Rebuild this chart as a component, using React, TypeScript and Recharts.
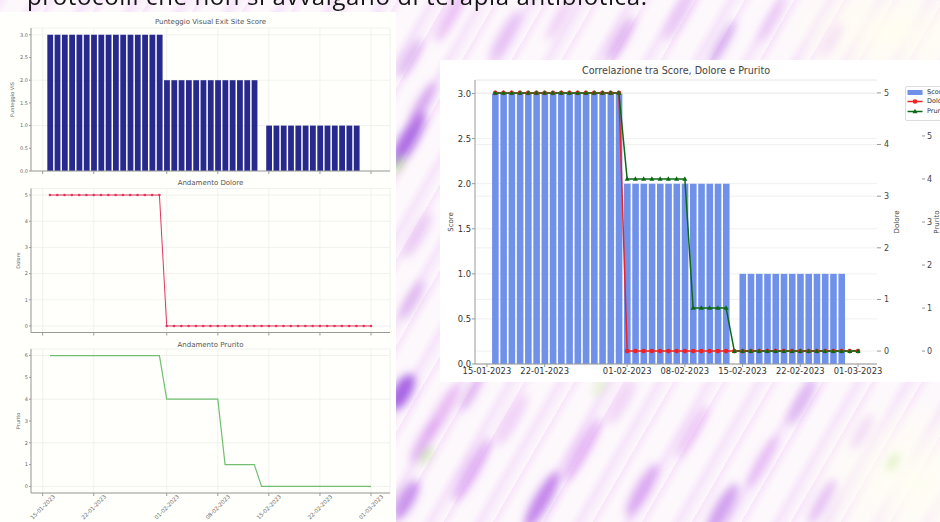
import { ComposedChart, Bar, Line, XAxis, YAxis, CartesianGrid } from "recharts";

// day axis counts days from 15-01-2023
const START = Date.UTC(2023, 0, 15);
const DAY_MS = 86400000;

// one reading a day, 16-01-2023 .. 01-03-2023
const dayOffsets = Array.from({ length: 45 }, (_, i) => i + 1);

const scoreVIS = [
  3, 3, 3, 3, 3, 3, 3, 3, 3, 3, 3, 3, 3, 3, 3, 3,
  2, 2, 2, 2, 2, 2, 2, 2, 2, 2, 2, 2, 2,
  null,
  1, 1, 1, 1, 1, 1, 1, 1, 1, 1, 1, 1, 1,
  null, null,
];
const dolore = [
  5, 5, 5, 5, 5, 5, 5, 5, 5, 5, 5, 5, 5, 5, 5, 5,
  0, 0, 0, 0, 0, 0, 0, 0, 0, 0, 0, 0, 0, 0, 0, 0, 0, 0, 0, 0, 0, 0, 0, 0, 0, 0, 0, 0, 0,
];
const prurito = [
  6, 6, 6, 6, 6, 6, 6, 6, 6, 6, 6, 6, 6, 6, 6, 6,
  4, 4, 4, 4, 4, 4, 4, 4,
  1, 1, 1, 1, 1,
  0, 0, 0, 0, 0, 0, 0, 0, 0, 0, 0, 0, 0, 0, 0, 0,
];

const tickLabels = ["15-01-2023", "22-01-2023", "01-02-2023", "08-02-2023", "15-02-2023", "22-02-2023", "01-03-2023"];
const scoreTicks = [0, 0.5, 1, 1.5, 2, 2.5, 3];
const doloreTicks = [0, 1, 2, 3, 4, 5];
const pruritoTicks = [0, 1, 2, 3, 4, 5, 6];

function dayOf(label: string) {
  const [d, m, y] = label.split("-").map(Number);
  return Math.round((Date.UTC(y, m - 1, d) - START) / DAY_MS);
}
const tickDays = tickLabels.map(dayOf);
const labelOfDay = (v: number) => tickLabels[tickDays.indexOf(v)] ?? "";

const rows = dayOffsets.map((day, i) => ({
  day,
  score: scoreVIS[i],
  dolore: dolore[i],
  prurito: prurito[i],
}));

const FONT = '"DejaVu Sans", sans-serif';
const leftDomain = [-1.6, 47.6];
const rightDomain = [-1.45, 47.3];

// watercolour streaks of the slide background: [cx, cy, rx, ry, colour, opacity]
const blots: [number, number, number, number, string, number][] = [
  [408, 140, 32, 8, "#a155e0", 0.85],
  [422, 105, 26, 6, "#c27ee8", 0.6],
  [410, 58, 22, 6, "#c98be8", 0.55],
  [418, 235, 26, 6, "#d9a0ee", 0.5],
  [412, 300, 22, 6, "#c68ae8", 0.5],
  [402, 392, 20, 9, "#9a50e0", 0.85],
  [424, 440, 26, 6, "#d38ff0", 0.6],
  [406, 500, 22, 8, "#b46ce6", 0.7],
  [452, 14, 32, 6, "#dd9af0", 0.6],
  [505, 36, 30, 6, "#cf8aee", 0.5],
  [560, 18, 26, 5, "#e2a5f0", 0.5],
  [620, 40, 26, 6, "#c67ee8", 0.55],
  [680, 14, 30, 6, "#d89cf0", 0.5],
  [722, 44, 26, 5, "#b877e6", 0.55],
  [772, 20, 26, 5, "#dba2ef", 0.45],
  [832, 40, 20, 5, "#e4b0f2", 0.35],
  [442, 412, 32, 7, "#e0a0f0", 0.6],
  [472, 470, 36, 7, "#cf86ee", 0.6],
  [512, 420, 30, 6, "#e4a8f2", 0.5],
  [542, 500, 32, 8, "#b060e6", 0.7],
  [582, 450, 36, 7, "#d690f0", 0.6],
  [622, 402, 26, 6, "#e6b0f2", 0.5],
  [642, 490, 30, 7, "#c478ea", 0.6],
  [692, 432, 30, 6, "#dd9cf0", 0.5],
  [722, 510, 30, 8, "#b468e6", 0.6],
  [762, 462, 30, 6, "#d895f0", 0.5],
  [802, 402, 26, 6, "#c585ea", 0.55],
  [822, 502, 26, 6, "#cf8cee", 0.5],
  [862, 432, 20, 6, "#e0a6f0", 0.35],
  [472, 392, 22, 5, "#c77fe8", 0.5],
  [398, 165, 10, 4, "#a8e070", 0.6],
  [426, 455, 10, 4, "#b0e078", 0.6],
  [893, 462, 10, 4, "#c0e890", 0.5],
  [600, 386, 12, 4, "#b9e58a", 0.4],
];

const SlantTick = ({ x, y, payload }: any) => (
  <text
    x={x}
    y={y + 9}
    textAnchor="middle"
    dominantBaseline="central"
    transform={`rotate(-45, ${x}, ${y + 9})`}
    fontSize={5.5}
    fill="#666"
    fontFamily={FONT}
  >
    {labelOfDay(payload.value)}
  </text>
);

const TriangleDot = (props: any) => {
  const { cx, cy, key } = props;
  if (cx == null || cy == null) return <g key={key} />;
  return (
    <path
      key={key}
      d={`M${cx},${cy - 2.7}L${cx + 2.5},${cy + 1.8}L${cx - 2.5},${cy + 1.8}Z`}
      fill="#0c6a14"
    />
  );
};

const smallTick = { fontSize: 5, fill: "#666", fontFamily: FONT };
const smallLabel = (value: string, dx: number) => ({
  value,
  angle: -90,
  position: "center" as const,
  dx,
  style: { fontSize: 5, fill: "#666", fontFamily: FONT },
});

function SmallTitle({ text, y }: { text: string; y: number }) {
  return (
    <div
      style={{
        position: "absolute",
        left: 31,
        width: 359,
        top: y - 4,
        textAlign: "center",
        fontSize: 7,
        lineHeight: "8px",
        color: "#555",
        fontFamily: FONT,
      }}
    >
      {text}
    </div>
  );
}

const bg = [
  "radial-gradient(ellipse 120px 60px at 95% 6%, rgba(255,254,240,1) 0%, rgba(255,254,240,0) 100%)",
  "radial-gradient(ellipse 110px 90px at 97% 92%, rgba(255,254,242,1) 0%, rgba(255,254,242,0) 100%)",
  "repeating-linear-gradient(120deg, rgba(230,165,242,0.22) 0px, rgba(230,165,242,0) 9px, rgba(255,255,255,0) 23px, rgba(215,145,240,0.18) 31px, rgba(255,255,255,0) 43px)",
  "#fdf8fc",
].join(", ");

export default function App() {
  return (
    <div
      style={{
        position: "fixed",
        left: 0,
        top: 0,
        width: 940,
        height: 522,
        overflow: "hidden",
        background: bg,
        fontFamily: FONT,
      }}
    >
      <svg width={940} height={522} style={{ position: "absolute", left: 0, top: 0 }}>
        <defs>
          <filter id="soft" x="-20%" y="-20%" width="140%" height="140%">
            <feGaussianBlur stdDeviation={4} />
          </filter>
        </defs>
        <g filter="url(#soft)">
          {blots.map(([cx, cy, rx, ry, c, o], i) => (
            <ellipse key={i} cx={cx} cy={cy} rx={rx} ry={ry} fill={c} opacity={o} transform={`rotate(-60, ${cx}, ${cy})`} />
          ))}
        </g>
      </svg>

      {/* left image: three stacked panels */}
      <div style={{ position: "absolute", left: 0, top: 12, width: 396, height: 510, background: "#fffffc" }} />

      <SmallTitle text="Punteggio Visual Exit Site Score" y={22} />
      <div style={{ position: "absolute", left: 0, top: 14 }}>
        <ComposedChart width={395} height={160} data={rows} margin={{ top: 14, right: 5, bottom: 0, left: 0 }}>
          <CartesianGrid stroke="#ebebeb" strokeWidth={0.7} />
          <XAxis
            type="number"
            dataKey="day"
            domain={leftDomain}
            ticks={tickDays}
            allowDataOverflow
            height={3}
            tickSize={3}
            tickFormatter={() => ""}
            stroke="#9a9a9a"
          />
          <YAxis
            domain={[0, 3.15]}
            ticks={scoreTicks}
            allowDataOverflow
            width={31}
            tickSize={2}
            tickMargin={1}
            tickFormatter={(v: number) => v.toFixed(1)}
            tick={smallTick}
            stroke="#9a9a9a"
            label={smallLabel("Punteggio VIS", -3)}
          />
          <Bar dataKey="score" fill="#28298c" barSize={5.8} isAnimationActive={false} />
        </ComposedChart>
      </div>

      <SmallTitle text="Andamento Dolore" y={183} />
      <div style={{ position: "absolute", left: 0, top: 176 }}>
        <ComposedChart width={395} height={160} data={rows} margin={{ top: 12.5, right: 5, bottom: 0, left: 0 }}>
          <CartesianGrid stroke="#ebebeb" strokeWidth={0.7} />
          <XAxis
            type="number"
            dataKey="day"
            domain={leftDomain}
            ticks={tickDays}
            allowDataOverflow
            height={3.5}
            tickSize={3}
            tickFormatter={() => ""}
            stroke="#9a9a9a"
          />
          <YAxis
            domain={[-0.25, 5.25]}
            ticks={doloreTicks}
            allowDataOverflow
            width={31}
            tickSize={2}
            tickMargin={1}
            tick={smallTick}
            stroke="#9a9a9a"
            label={smallLabel("Dolore", 2.5)}
          />
          <Line
            dataKey="dolore"
            stroke="#e2345c"
            strokeWidth={1}
            dot={{ r: 1.3, fill: "#e2345c", stroke: "none" }}
            isAnimationActive={false}
          />
        </ComposedChart>
      </div>

      <SmallTitle text="Andamento Prurito" y={345} />
      <div style={{ position: "absolute", left: 0, top: 336 }}>
        <ComposedChart width={395} height={186} data={rows} margin={{ top: 13, right: 5, bottom: 0, left: 0 }}>
          <CartesianGrid stroke="#ebebeb" strokeWidth={0.7} />
          <XAxis
            type="number"
            dataKey="day"
            domain={leftDomain}
            ticks={tickDays}
            allowDataOverflow
            height={29}
            tickSize={3}
            tickMargin={2}
            tick={<SlantTick />}
            stroke="#9a9a9a"
          />
          <YAxis
            domain={[-0.3, 6.3]}
            ticks={pruritoTicks}
            allowDataOverflow
            width={31}
            tickSize={2}
            tickMargin={1}
            tick={smallTick}
            stroke="#9a9a9a"
            label={smallLabel("Prurito", 2.5)}
          />
          <Line dataKey="prurito" stroke="#70bf70" strokeWidth={1.2} dot={false} isAnimationActive={false} />
        </ComposedChart>
      </div>

      {/* right image: combined chart */}
      <div style={{ position: "absolute", left: 440, top: 60, width: 500, height: 322, background: "#ffffff" }} />
      <div
        style={{
          position: "absolute",
          left: 475,
          width: 402,
          top: 65,
          textAlign: "center",
          fontSize: 9.6,
          lineHeight: "12px",
          color: "#444",
        }}
      >
        Correlazione tra Score, Dolore e Prurito
      </div>
      <div style={{ position: "absolute", left: 440, top: 60 }}>
        <ComposedChart width={500} height={322} data={rows} margin={{ top: 20, right: 0, bottom: 0, left: 0 }}>
          <CartesianGrid yAxisId="score" xAxisId="x" vertical={false} stroke="#ececec" strokeWidth={0.8} />
          <CartesianGrid yAxisId="dolore" xAxisId="x" vertical={false} stroke="#ececec" strokeWidth={0.8} />
          <XAxis
            xAxisId="x"
            type="number"
            dataKey="day"
            domain={rightDomain}
            ticks={tickDays}
            allowDataOverflow
            height={18}
            tickSize={3}
            tickMargin={1}
            tickFormatter={labelOfDay}
            tick={{ fontSize: 8.4, fill: "#333", fontFamily: FONT }}
            stroke="#999"
          />
          <YAxis
            yAxisId="score"
            domain={[0, 3.15]}
            ticks={scoreTicks}
            allowDataOverflow
            width={35}
            tickSize={3}
            tickMargin={1}
            tickFormatter={(v: number) => v.toFixed(1)}
            tick={{ fontSize: 8.4, fill: "#333", fontFamily: FONT }}
            stroke="#999"
            label={{
              value: "Score",
              angle: -90,
              position: "center",
              dx: -7,
              style: { fontSize: 7, fill: "#444", fontFamily: FONT },
            }}
          />
          <YAxis
            yAxisId="dolore"
            orientation="right"
            domain={[-0.25, 5.25]}
            ticks={doloreTicks}
            allowDataOverflow
            width={45}
            axisLine={false}
            tickSize={4}
            tickMargin={3}
            tick={{ fontSize: 8, fill: "#444", fontFamily: FONT }}
            tickLine={{ stroke: "#999" }}
            label={{
              value: "Dolore",
              angle: -90,
              position: "center",
              dx: -3,
              style: { fontSize: 7, fill: "#444", fontFamily: FONT },
            }}
          />
          <YAxis
            yAxisId="prurito"
            orientation="right"
            domain={[-0.3, 6.3]}
            ticks={pruritoTicks}
            allowDataOverflow
            width={18}
            axisLine={false}
            tickSize={3}
            tickMargin={2}
            tick={{ fontSize: 8, fill: "#444", fontFamily: FONT }}
            tickLine={{ stroke: "#999" }}
            label={{
              value: "Prurito",
              angle: -90,
              position: "center",
              dx: 6,
              style: { fontSize: 7, fill: "#444", fontFamily: FONT },
            }}
          />
          <Bar xAxisId="x" yAxisId="score" dataKey="score" fill="#6f91ea" barSize={6.6} isAnimationActive={false} />
          <Line
            xAxisId="x"
            yAxisId="dolore"
            dataKey="dolore"
            stroke="#ee2222"
            strokeWidth={1.5}
            dot={{ r: 2.3, fill: "#ee2222", stroke: "none" }}
            isAnimationActive={false}
          />
          <Line
            xAxisId="x"
            yAxisId="prurito"
            dataKey="prurito"
            stroke="#0c6a14"
            strokeWidth={1.5}
            dot={TriangleDot}
            isAnimationActive={false}
          />
        </ComposedChart>
      </div>

      {/* legend box of the right chart, clipped by the page edge */}
      <div
        style={{
          position: "absolute",
          left: 905,
          top: 86,
          width: 60,
          height: 33,
          border: "1px solid #dddddd",
          borderRadius: 2,
          background: "rgba(255,255,255,0.8)",
          fontSize: 6.5,
          color: "#333",
        }}
      >
        {[
          { name: "Score", kind: "bar", color: "#6f91ea" },
          { name: "Dolore", kind: "circle", color: "#ee2222" },
          { name: "Prurito", kind: "tri", color: "#0c6a14" },
        ].map((item, i) => (
          <div key={item.name} style={{ position: "absolute", left: 1, top: 1 + i * 9.4, height: 9, display: "flex", alignItems: "center" }}>
            <svg width={16} height={9} style={{ display: "block" }}>
              {item.kind === "bar" ? (
                <rect x={0.5} y={2} width={15} height={5} fill={item.color} />
              ) : (
                <g>
                  <line x1={0.5} x2={15.5} y1={4.5} y2={4.5} stroke={item.color} strokeWidth={1.5} />
                  {item.kind === "circle" ? (
                    <circle cx={8} cy={4.5} r={2.3} fill={item.color} />
                  ) : (
                    <path d="M8,1.8L10.5,6.3L5.5,6.3Z" fill={item.color} />
                  )}
                </g>
              )}
            </svg>
            <span style={{ marginLeft: 4, lineHeight: "9px" }}>{item.name}</span>
          </div>
        ))}
      </div>

      {/* slide text, only the lower half is on screen */}
      <svg width={940} height={20} style={{ position: "absolute", left: 0, top: 0 }}>
        <text x={27} y={5} fontSize={24} fill="#151515" fontFamily='"Open Sans", sans-serif' textLength={620} lengthAdjust="spacing">
          protocolli che non si avvalgano di terapia antibiotica.
        </text>
      </svg>
    </div>
  );
}
